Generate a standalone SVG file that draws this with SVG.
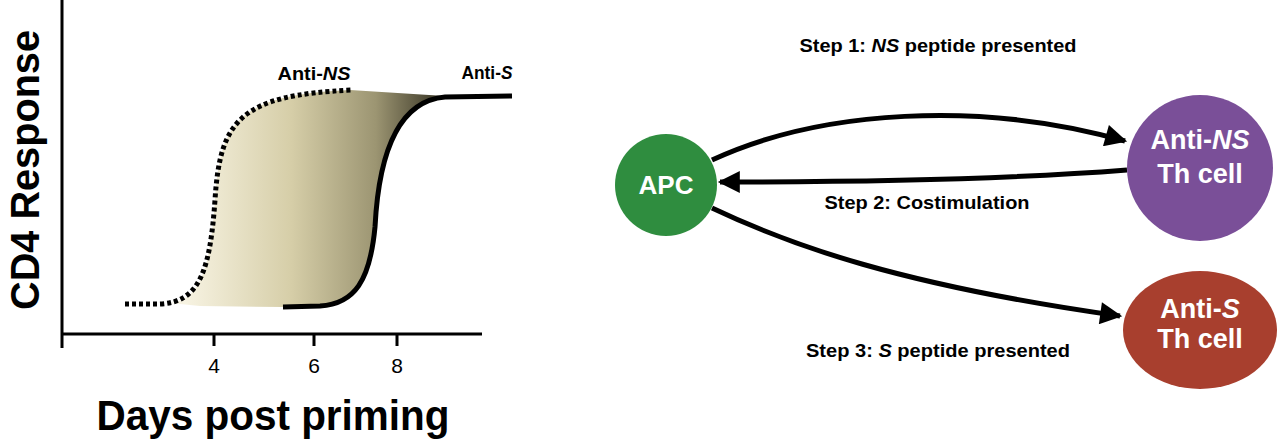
<svg xmlns="http://www.w3.org/2000/svg" width="1280" height="439" viewBox="0 0 1280 439">
<style>
text{font-family:"Liberation Sans",Arial,sans-serif;}
.b{font-weight:bold;}
.ax{stroke:#000;stroke-width:3;fill:none;}
.conn{stroke:#000;stroke-width:5;fill:none;}
.nl{fill:#fff;font-weight:bold;text-anchor:middle;}
.lbl{font-weight:bold;font-size:19px;text-anchor:middle;fill:#000;}
</style>
<defs>
<linearGradient id="g" gradientUnits="userSpaceOnUse" x1="185" y1="0" x2="450" y2="0">
<stop offset="0" stop-color="#f7f3e2"/>
<stop offset="0.4" stop-color="#d6cea8"/>
<stop offset="0.72" stop-color="#9c9572"/>
<stop offset="1" stop-color="#2a271a"/>
</linearGradient>
<marker id="ah" viewBox="0 0 10 10" refX="9" refY="5" markerWidth="5.5" markerHeight="4.4" markerUnits="strokeWidth" orient="auto">
<path d="M0,0 L10,5 L0,10 z" fill="#000"/>
</marker>
</defs>
<g id="chart">
<path d="M170,303 C200,300 210,270 215,200 C220,120 240,95 350,90 L445,96 C410,100 380,130 375,227 C370,280 355,304 320,306 L283,307 L200,306 Z" fill="url(#g)"/>
<path class="ax" d="M62,0 V348 M60.5,334 H482 M214,334 V346 M314,334 V346 M397,334 V346"/>
<text x="214" y="373" font-size="21" text-anchor="middle">4</text>
<text x="314" y="373" font-size="21" text-anchor="middle">6</text>
<text x="397" y="373" font-size="21" text-anchor="middle">8</text>
<path d="M125,304 L160,304 C200,302 210,270 215,200 C220,120 240,95 352,90" stroke="#000" stroke-width="5" fill="none" stroke-dasharray="4 3"/>
<path d="M283,307 L320,306 C355,304 370,280 375,227 C380,130 410,100 445,97 L512,96" stroke="#000" stroke-width="5" fill="none"/>
<text class="b" x="314" y="80" font-size="18" text-anchor="middle" textLength="73" lengthAdjust="spacingAndGlyphs">Anti-<tspan font-style="italic">NS</tspan></text>
<text class="b" x="487" y="79" font-size="18" text-anchor="middle" textLength="51" lengthAdjust="spacingAndGlyphs">Anti-<tspan font-style="italic">S</tspan></text>
<text class="b" x="0" y="0" font-size="40" text-anchor="middle" textLength="280" lengthAdjust="spacingAndGlyphs" transform="translate(39,170) rotate(-90)">CD4 Response</text>
<text class="b" x="273" y="430" font-size="42" text-anchor="middle" textLength="353" lengthAdjust="spacingAndGlyphs">Days post priming</text>
</g>
<g id="connectors">
<path class="conn" d="M712,160 C820,110 980,100 1125,141" marker-end="url(#ah)"/>
<path class="conn" d="M1127,170 C1000,180 860,182 720,182" marker-end="url(#ah)"/>
<path class="conn" d="M712,208 C790,245 900,285 1120,316" marker-end="url(#ah)"/>
<text class="lbl" x="938" y="52" textLength="277" lengthAdjust="spacingAndGlyphs">Step 1: <tspan font-style="italic">NS</tspan> peptide presented</text>
<text class="lbl" x="927" y="209" textLength="205" lengthAdjust="spacingAndGlyphs">Step 2: Costimulation</text>
<text class="lbl" x="938" y="357" textLength="264" lengthAdjust="spacingAndGlyphs">Step 3: <tspan font-style="italic">S</tspan> peptide presented</text>
</g>
<g id="apc">
<circle cx="666" cy="185" r="51" fill="#2f8d3f"/>
<text class="nl" x="666" y="194" font-size="26">APC</text>
</g>
<g id="anti-ns">
<circle cx="1200" cy="168" r="73" fill="#7a4f98"/>
<text class="nl" x="1200" y="149" font-size="27">Anti-<tspan font-style="italic">NS</tspan></text>
<text class="nl" x="1200" y="183" font-size="27">Th cell</text>
</g>
<g id="anti-s">
<ellipse cx="1200" cy="330" rx="77" ry="59" fill="#a83f2e"/>
<text class="nl" x="1200" y="318" font-size="27">Anti-<tspan font-style="italic">S</tspan></text>
<text class="nl" x="1200" y="348" font-size="27">Th cell</text>
</g>
</svg>
